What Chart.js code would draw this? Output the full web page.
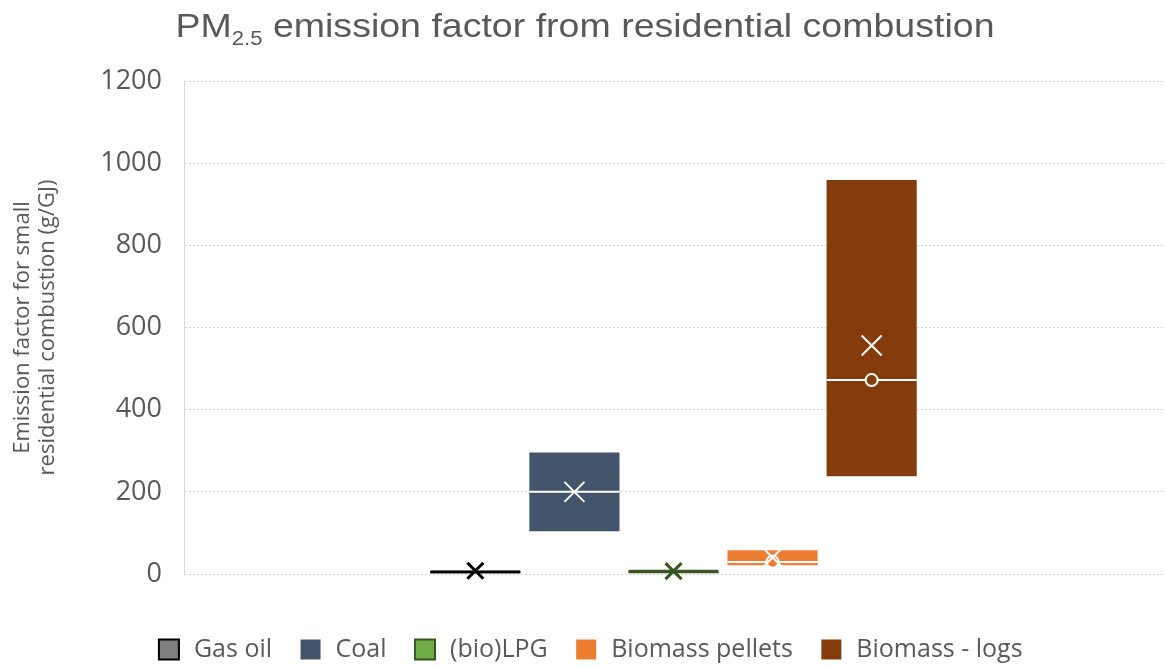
<!DOCTYPE html>
<html lang="en">
<head>
<meta charset="UTF-8" />
<title>PM2.5 emission factor from residential combustion</title>
<style>
  html, body { margin: 0; padding: 0; background: #fff; }
</style>
</head>
<body>
<canvas id="myChart" width="1165" height="668"></canvas>

<script src="https://cdn.jsdelivr.net/npm/chart.js@4.4.0/dist/chart.umd.min.js"></script>
<script>
// box plot values per fuel (g/GJ)
var fuels = ["Gas oil", "Coal", "(bio)LPG", "Biomass pellets", "Biomass - logs"];
var q1 = [0, 104, 0, 21, 238];
var q3 = [9, 296, 11, 58, 959];
var medians = [4, 200, 5, 29, 472];
var means = [8, 200, 7, 40, 556];
var innerPoints = [null, null, null, 30, 472];
var yTicks = [0, 200, 400, 600, 800, 1000, 1200];

var fills = ["#7f7f7f", "#44546a", "#70ad47", "#ed7d31", "#843c0c"];
var edges = ["#000000", "#44546a", "#375623", "#ed7d31", "#843c0c"];
var edgeWidths = [2, 0, 2, 0, 0];
var markColor = ["#000000", "#ffffff", "#375623", "#ffffff", "#ffffff"];
var markSize = [8, 10, 8, 10, 10];
var markWidth = [3, 2, 3, 2, 2];

var textGrey = "#595959";

// median line, inner point and mean cross on top of each box
var boxMarks = {
	id: "boxMarks",
	afterDatasetsDraw: function (chart) {
		var ctx = chart.ctx;
		var y = chart.scales.y;
		fuels.forEach(function (name, i) {
			var bar = chart.getDatasetMeta(i).data[0];
			var left = bar.x - bar.width / 2;
			var right = bar.x + bar.width / 2;
			ctx.save();
			ctx.strokeStyle = markColor[i];
			ctx.lineWidth = 2;

			var my = y.getPixelForValue(medians[i]);
			ctx.beginPath();
			ctx.moveTo(left, my);
			ctx.lineTo(right, my);
			ctx.stroke();

			if (innerPoints[i] !== null) {
				var py = y.getPixelForValue(innerPoints[i]);
				ctx.beginPath();
				ctx.arc(bar.x, py, 6, 0, Math.PI * 2);
				ctx.fillStyle = fills[i];
				ctx.fill();
				ctx.stroke();
			}

			var cy = y.getPixelForValue(means[i]);
			var r = markSize[i];
			ctx.lineWidth = markWidth[i];
			ctx.beginPath();
			ctx.moveTo(bar.x - r, cy - r);
			ctx.lineTo(bar.x + r, cy + r);
			ctx.moveTo(bar.x + r, cy - r);
			ctx.lineTo(bar.x - r, cy + r);
			ctx.stroke();
			ctx.restore();
		});
	},
};

// title with subscript 2.5
var titleLine = {
	id: "titleLine",
	afterDraw: function (chart) {
		var ctx = chart.ctx;
		var big = '34px "Liberation Sans"';
		var small = '20px "Liberation Sans"';
		var rest = " emission factor from residential combustion";
		ctx.save();
		ctx.font = big;
		var w1 = ctx.measureText("PM").width;
		var w3 = ctx.measureText(rest).width;
		ctx.font = small;
		var w2 = ctx.measureText("2.5").width;
		var targetW = 819;
		var sx = targetW / (w1 + w2 + w3);
		ctx.translate(585 - targetW / 2, 37);
		ctx.scale(sx, 1);
		ctx.fillStyle = textGrey;
		ctx.textBaseline = "alphabetic";
		ctx.font = big;
		ctx.fillText("PM", 0, 0);
		ctx.font = small;
		ctx.fillText("2.5", w1, 8);
		ctx.font = big;
		ctx.fillText(rest, w1 + w2, 0);
		ctx.restore();
	},
};

var datasets = fuels.map(function (name, i) {
	return {
		label: name,
		data: [[q1[i], q3[i]]],
		backgroundColor: fills[i],
		borderColor: edges[i],
		borderWidth: edgeWidths[i],
		borderSkipped: false,
		categoryPercentage: 0.506,
		barPercentage: 0.91,
		pointStyle: "rect",
	};
});

var ctx = document.getElementById("myChart").getContext("2d");
var chart = new Chart(ctx, {
	type: "bar",
	data: {
		labels: ["PM2.5"],
		datasets: datasets,
	},
	options: {
		responsive: false,
		animation: false,
		layout: { padding: { top: 81, right: 2, left: 16, bottom: -4 } },
		plugins: {
			tooltip: { enabled: false },
			legend: {
				position: "bottom",
				labels: {
					color: textGrey,
					font: { family: "Open Sans", size: 25 },
					usePointStyle: true,
					boxWidth: 25,
					boxHeight: 20,
					padding: 26,
				},
			},
		},
		scales: {
			x: {
				grid: { display: false },
				border: { display: false },
				ticks: { display: false },
				afterFit: function (scale) {
					scale.height = 37;
				},
			},
			y: {
				min: 0,
				max: 1200,
				afterBuildTicks: function (scale) {
					scale.ticks = yTicks.map(function (v) {
						return { value: v };
					});
				},
				afterFit: function (scale) {
					scale.width = 168;
				},
				grid: { color: "#d4d4d4", drawTicks: false },
				border: { display: true, color: "#d9d9d9", dash: [2, 2] },
				ticks: {
					color: textGrey,
					font: { family: "Open Sans", size: 27 },
					padding: 22,
					callback: function (v) {
						return String(v);
					},
				},
				title: {
					display: true,
					text: ["Emission factor for small", "residential combustion (g/GJ)"],
					color: textGrey,
					font: { family: "Open Sans", size: 22, lineHeight: 1.1 },
					padding: { top: -5, bottom: 0 },
				},
			},
		},
	},
	plugins: [boxMarks, titleLine],
});
</script>
</body>
</html>
